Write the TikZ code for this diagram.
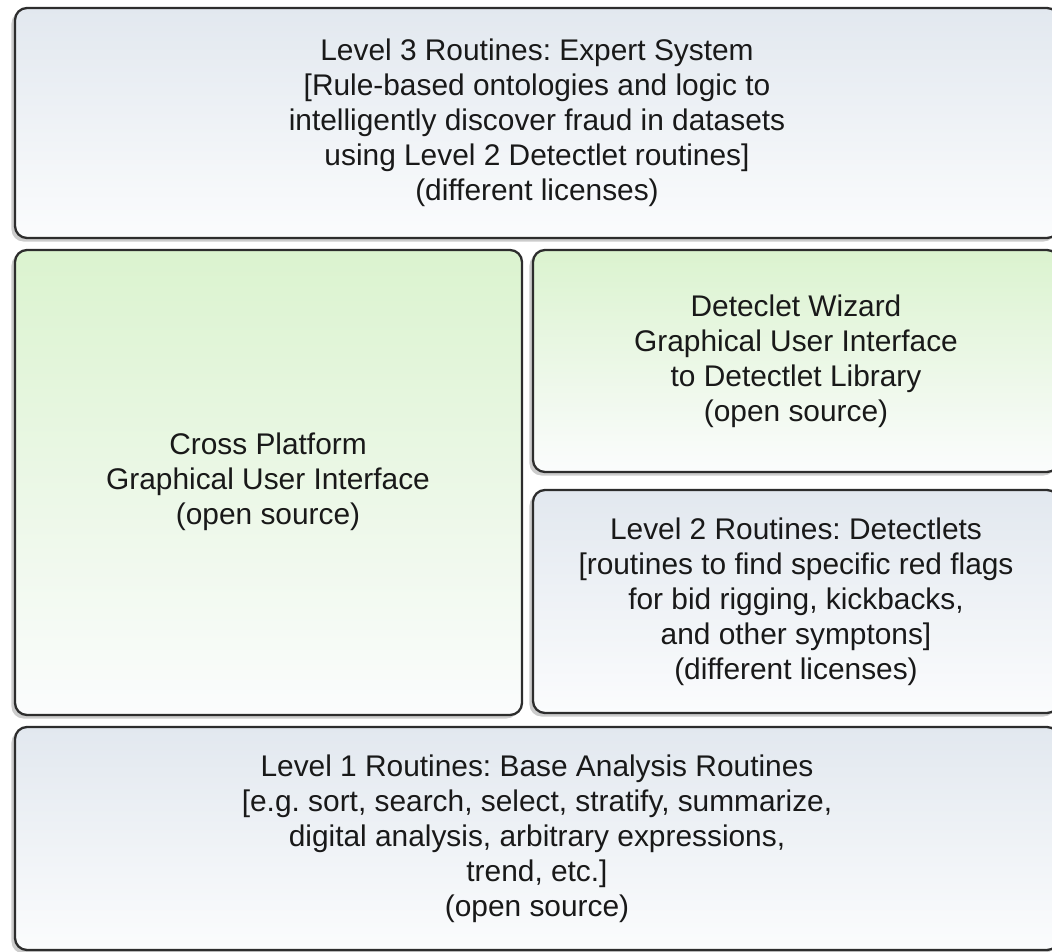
\documentclass[tikz,border=0pt]{standalone}
\usepackage{fontspec}
\setmainfont{Liberation Sans}
\usetikzlibrary{shadows}
\frenchspacing

\definecolor{panelblue}{RGB}{226,232,239}
\definecolor{panelgreen}{RGB}{219,243,207}
\definecolor{panelwhite}{RGB}{251,252,253}
\definecolor{paneledge}{RGB}{45,45,45}

\begin{document}
\begin{tikzpicture}[x=0.02cm,y=-0.02cm,
		panel/.style={draw=paneledge, line width=1.3pt, rounded corners=0.24cm,
			drop shadow={shadow xshift=-2pt, shadow yshift=-2pt, opacity=0.4}},
		bluepanel/.style={panel, top color=panelblue, bottom color=panelwhite},
		greenpanel/.style={panel, top color=panelgreen, bottom color=panelwhite},
		caption/.style={align=center, text=black!90, font=\fontsize{17pt}{19.9pt}\selectfont}]
				\useasboundingbox (0,0) rectangle (1052,952);
				\clip (0,0) rectangle (1052,952);
				
				% level 3
				\draw[bluepanel] (15,8) rectangle (1059,238);
				\node[caption] (expert) at (537,123) {Level 3 Routines: Expert System\\
					{[}Rule-based ontologies and logic to\\
					intelligently discover fraud in datasets\\
					using Level 2 Detectlet routines]\\
					(different licenses)};
				
				% gui
				\draw[greenpanel] (15,250) rectangle (522,715);
				\node[caption] (gui) at (268,482) {Cross Platform\\
					Graphical User Interface\\
					(open source)};
				
				% wizard
				\draw[greenpanel] (533,250) rectangle (1059,472);
				\node[caption] (wizard) at (796,361) {Deteclet Wizard\\
					Graphical User Interface\\
					to Detectlet Library\\
					(open source)};
				
				% level 2
				\draw[bluepanel] (533,490) rectangle (1059,713);
				\node[caption] (detectlets) at (796,602) {Level 2 Routines: Detectlets\\
					{[}routines to find specific red flags\\
					for bid rigging, kickbacks,\\
					and other symptons]\\
					(different licenses)};
				
				% level 1
				\draw[bluepanel] (15,727) rectangle (1059,950);
				\node[caption] (base) at (537,839) {Level 1 Routines: Base Analysis Routines\\
					{[}e.g. sort, search, select, stratify, summarize,\\
					digital analysis, arbitrary expressions,\\
					trend, etc.]\\
					(open source)};
			\end{tikzpicture}
\end{document}
